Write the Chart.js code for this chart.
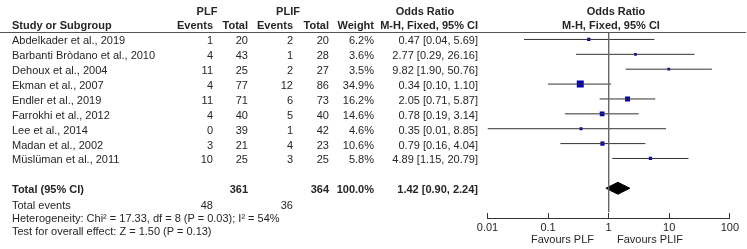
<!DOCTYPE html>
<html>
<head>
<meta charset="utf-8">
<title>Forest plot</title>
<script src="https://cdn.jsdelivr.net/npm/chart.js@4.4.0/dist/chart.umd.min.js"></script>
<style>
  body { margin: 0; background: #fff; }
  #wrap { position: relative; width: 747px; height: 249px; overflow: hidden;
          font-family: 'Liberation Sans', Arial, sans-serif; font-size: 11px; color: #262626; }
  #wrap canvas { position: absolute; left: 0; top: 0; }
  .t { position: absolute; white-space: nowrap; line-height: 13px; }
  .b { font-weight: bold; }
  #rule { position: absolute; left: 0; top: 32px; width: 746px; height: 1px; background: #555; }
</style>
</head>
<body>
<div id="wrap">
  <canvas id="forest" width="747" height="249" style="width:747px;height:249px"></canvas>
  <div id="rule"></div>
</div>
<script>
// study data
const studies = [
  'Abdelkader et al., 2019',
  'Barbanti Bròdano et al., 2010',
  'Dehoux et al., 2004',
  'Ekman et al., 2007',
  'Endler et al., 2019',
  'Farrokhi et al., 2012',
  'Lee et al., 2014',
  'Madan et al., 2002',
  'Müslüman et al., 2011'
];
const plfEvents = [1, 4, 11, 4, 11, 4, 0, 3, 10];
const plfTotal = [20, 43, 25, 77, 71, 40, 39, 21, 25];
const plifEvents = [2, 1, 2, 12, 6, 5, 1, 4, 3];
const plifTotal = [20, 28, 27, 86, 73, 40, 42, 23, 25];
const weights = [6.2, 3.6, 3.5, 34.9, 16.2, 14.6, 4.6, 10.6, 5.8];
const oddsRatio = [0.47, 2.77, 9.82, 0.34, 2.05, 0.78, 0.35, 0.79, 4.89];
const ciLow = [0.04, 0.29, 1.90, 0.10, 0.71, 0.19, 0.01, 0.16, 1.15];
const ciHigh = [5.69, 26.16, 50.76, 1.10, 5.87, 3.14, 8.85, 4.04, 20.79];

const pooled = [1.42, 0.90, 2.24]; // OR, low, high
const totalPlf = 361;
const totalPlif = 364;
const totalEventsPlf = 48;
const totalEventsPlif = 36;
const heterogeneity = 'Heterogeneity: Chi² = 17.33, df = 8 (P = 0.03); I² = 54%';
const overallTest = 'Test for overall effect: Z = 1.50 (P = 0.13)';

const tickValues = [0.01, 0.1, 1, 10, 100];

const TOTAL_ROW = 11;
const rowIdx = studies.map((s, i) => i + 1);

// CI lines, one dataset per study
const ciSets = studies.map((s, i) => ({
  data: [{ x: ciLow[i], y: rowIdx[i] }, { x: ciHigh[i], y: rowIdx[i] }],
  showLine: true,
  borderColor: '#333',
  borderWidth: 1,
  pointRadius: 0
}));

// square area follows study weight
const squares = {
  data: studies.map((s, i) => ({ x: oddsRatio[i], y: rowIdx[i] })),
  pointStyle: 'rect',
  pointRadius: weights.map(w => 0.75 * Math.sqrt(w) + 0.5),
  backgroundColor: '#0000b4',
  borderWidth: 0
};

const dh = 0.4;
const diamond = {
  data: [
    { x: pooled[1], y: TOTAL_ROW },
    { x: pooled[0], y: TOTAL_ROW - dh },
    { x: pooled[2], y: TOTAL_ROW },
    { x: pooled[0], y: TOTAL_ROW + dh },
    { x: pooled[1], y: TOTAL_ROW }
  ],
  showLine: true,
  fill: 'shape',
  backgroundColor: '#000',
  borderColor: '#000',
  borderWidth: 1,
  pointRadius: 0
};

const noEffect = {
  data: [{ x: 1, y: 0.5 }, { x: 1, y: 12.6 }],
  showLine: true,
  borderColor: '#666',
  borderWidth: 1,
  pointRadius: 0
};

Chart.defaults.font.family = "'Liberation Sans', Arial, sans-serif";
Chart.defaults.font.size = 11;
Chart.defaults.color = '#262626';

const chart = new Chart(document.getElementById('forest'), {
  type: 'scatter',
  data: { datasets: [noEffect, ...ciSets, squares, diamond] },
  options: {
    responsive: false,
    animation: false,
    layout: { padding: { left: 487.5, right: 11.5, top: 32, bottom: 0 } },
    plugins: { legend: { display: false }, tooltip: { enabled: false } },
    scales: {
      x: {
        type: 'logarithmic',
        min: 0.01,
        max: 100,
        afterBuildTicks: s => { s.ticks = tickValues.map(v => ({ value: v })); },
        afterFit: s => { s.height = 31; },
        ticks: { autoSkip: false, maxRotation: 0, padding: 8, callback: v => String(v) },
        grid: { display: true, drawOnChartArea: false, drawTicks: true, tickLength: -5, color: '#333' },
        border: { display: true, color: '#333', width: 1 }
      },
      y: { type: 'linear', min: 0.5, max: 13, reverse: true, display: false }
    }
  }
});

// table text, placed on the chart's row scale
const wrap = document.getElementById('wrap');
function txt(s, x, yc, align, bold) {
  const d = document.createElement('div');
  d.className = 't' + (bold ? ' b' : '');
  d.textContent = s;
  d.style.top = (yc - 6.5) + 'px';
  if (align === 'right') d.style.right = (747 - x) + 'px';
  else if (align === 'center') { d.style.left = x + 'px'; d.style.transform = 'translateX(-50%)'; }
  else d.style.left = x + 'px';
  wrap.appendChild(d);
}
const fmt = v => v.toFixed(2);
const orText = (o, l, h) => `${fmt(o)} [${fmt(l)}, ${fmt(h)}]`;
const yAt = k => chart.scales.y.getPixelForValue(k);

// headers
txt('PLF', 207, 11.5, 'center', true);
txt('PLIF', 288, 11.5, 'center', true);
txt('Odds Ratio', 425, 11, 'center', true);
txt('Odds Ratio', 616, 11, 'center', true);
txt('Study or Subgroup', 12, 25.5, 'left', true);
txt('Events', 213, 25.5, 'right', true);
txt('Total', 248, 25.5, 'right', true);
txt('Events', 293, 25.5, 'right', true);
txt('Total', 329, 25.5, 'right', true);
txt('Weight', 374, 25.5, 'right', true);
txt('M-H, Fixed, 95% CI', 478, 25.5, 'right', true);
txt('M-H, Fixed, 95% CI', 611, 25.5, 'center', true);

studies.forEach((s, i) => {
  const y = yAt(rowIdx[i]) + 1.5;
  txt(s, 12, y, 'left');
  txt(String(plfEvents[i]), 213, y, 'right');
  txt(String(plfTotal[i]), 248, y, 'right');
  txt(String(plifEvents[i]), 293, y, 'right');
  txt(String(plifTotal[i]), 329, y, 'right');
  txt(weights[i].toFixed(1) + '%', 374, y, 'right');
  txt(orText(oddsRatio[i], ciLow[i], ciHigh[i]), 478, y, 'right');
});

const ty = yAt(TOTAL_ROW) + 1;
txt('Total (95% CI)', 12, ty, 'left', true);
txt(String(totalPlf), 248, ty, 'right', true);
txt(String(totalPlif), 329, ty, 'right', true);
txt('100.0%', 374, ty, 'right', true);
txt(orText(pooled[0], pooled[1], pooled[2]), 478, ty, 'right', true);

txt('Total events', 12, 205, 'left');
txt(String(totalEventsPlf), 213, 205, 'right');
txt(String(totalEventsPlif), 293, 205, 'right');
txt(heterogeneity, 12, 218.5, 'left');
txt(overallTest, 12, 231.5, 'left');

txt('Favours PLF', 594, 239, 'right');
txt('Favours PLIF', 617, 239, 'left');
</script>
</body>
</html>
